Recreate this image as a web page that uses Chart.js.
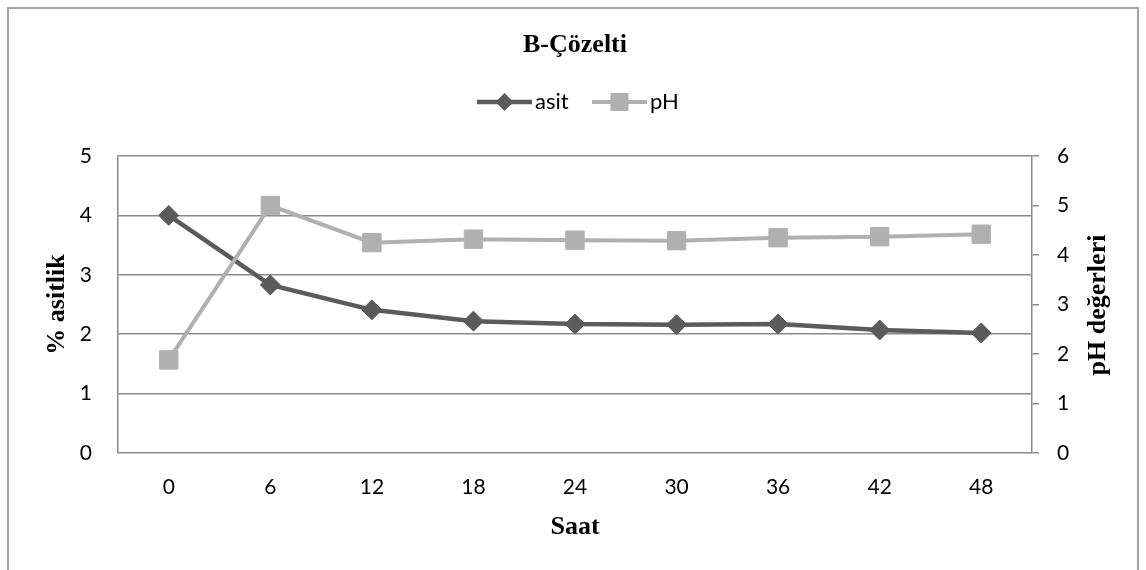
<!DOCTYPE html>
<html>
<head>
<meta charset="utf-8">
<title>B-Çözelti</title>
<script src="https://cdn.jsdelivr.net/npm/chart.js@4/dist/chart.umd.min.js"></script>
<style>
  html, body { margin: 0; padding: 0; background: #ffffff; }
  canvas { display: block; }
</style>
</head>
<body>
<canvas id="chart" width="1146" height="570"></canvas>
<script>
// Sampling hours
const hours = ['0', '6', '12', '18', '24', '30', '36', '42', '48'];
// Acidity (%) – left axis
const asit = [4.0, 2.83, 2.41, 2.22, 2.17, 2.16, 2.17, 2.07, 2.02];
// pH values – right axis
const pH = [1.88, 5.0, 4.25, 4.32, 4.30, 4.29, 4.35, 4.37, 4.42];

const TITLE = 'B-Çözelti';
const SERIES_NAMES = ['asit', 'pH'];
const AXIS_LEFT = '% asitlik';
const AXIS_RIGHT = 'pH değerleri';
const AXIS_X = 'Saat';

const DARK = '#5b5b5b';
const LIGHT = '#b0b0b0';
const GRID = '#8a8a8a';
const SERIF = '"Liberation Serif", "Times New Roman", serif';
const SANS = 'Lato, "Open Sans", sans-serif';

// Frame, title, legend and the right-hand axis title
const decorations = {
  id: 'decorations',
  beforeDraw(chart) {
    const ctx = chart.ctx;
    ctx.save();
    ctx.fillStyle = '#ffffff';
    ctx.fillRect(0, 0, chart.width, chart.height);
    ctx.restore();
  },
  afterDraw(chart) {
    const ctx = chart.ctx;
    ctx.save();
    // outer frame
    ctx.strokeStyle = '#a3a3a3';
    ctx.lineWidth = 2;
    ctx.strokeRect(8, 8, chart.width - 16, chart.height + 10);

    // title
    ctx.fillStyle = '#000000';
    ctx.font = 'bold 26px ' + SERIF;
    ctx.textAlign = 'center';
    ctx.textBaseline = 'middle';
    ctx.fillText(TITLE, 575, 45);

    // legend
    const items = [
      { x: 477, ds: chart.data.datasets[0] },
      { x: 592, ds: chart.data.datasets[1] }
    ];
    const ly = 102;
    items.forEach(it => {
      ctx.strokeStyle = it.ds.borderColor;
      ctx.lineWidth = it.ds.borderWidth;
      ctx.beginPath();
      ctx.moveTo(it.x, ly);
      ctx.lineTo(it.x + 55, ly);
      ctx.stroke();
      ctx.fillStyle = it.ds.pointBackgroundColor;
      const cx = it.x + 27.5;
      ctx.beginPath();
      if (it.ds.pointStyle === 'rectRot') {
        ctx.moveTo(cx - 9, ly); ctx.lineTo(cx, ly - 9);
        ctx.lineTo(cx + 9, ly); ctx.lineTo(cx, ly + 9);
        ctx.closePath();
      } else {
        ctx.rect(cx - 9, ly - 9, 18, 18);
      }
      ctx.fill();
      ctx.fillStyle = '#000000';
      ctx.font = '22px ' + SANS;
      ctx.textAlign = 'left';
      ctx.textBaseline = 'middle';
      ctx.fillText(it.ds.label, it.x + 58, ly);
    });

    // right axis title, reading bottom to top
    ctx.translate(1098, 305);
    ctx.rotate(-Math.PI / 2);
    ctx.font = 'bold 26px ' + SERIF;
    ctx.textAlign = 'center';
    ctx.textBaseline = 'middle';
    ctx.fillStyle = '#000000';
    ctx.fillText(AXIS_RIGHT, 0, 0);
    ctx.restore();
  }
};

function build() {
  new Chart(document.getElementById('chart'), {
    type: 'line',
    data: {
      labels: hours,
      datasets: [
        {
          label: SERIES_NAMES[0],
          data: asit,
          yAxisID: 'y',
          borderColor: DARK,
          backgroundColor: DARK,
          borderWidth: 4.5,
          pointStyle: 'rectRot',
          pointRadius: 10,
          pointBackgroundColor: DARK,
          pointBorderColor: DARK,
          pointBorderWidth: 1,
          tension: 0,
          order: 2
        },
        {
          label: SERIES_NAMES[1],
          data: pH,
          yAxisID: 'y1',
          borderColor: LIGHT,
          backgroundColor: LIGHT,
          borderWidth: 4,
          pointStyle: 'rect',
          pointRadius: 13,
          pointBackgroundColor: LIGHT,
          pointBorderColor: LIGHT,
          pointBorderWidth: 1,
          tension: 0,
          order: 1
        }
      ]
    },
    options: {
      responsive: false,
      animation: false,
      events: [],
      layout: { padding: { top: 156, left: 0, right: 0, bottom: 0 } },
      plugins: {
        legend: { display: false },
        title: { display: false },
        tooltip: { enabled: false }
      },
      scales: {
        x: {
          offset: true,
          grid: { display: false, drawTicks: false },
          border: { display: false },
          ticks: { color: '#000000', font: { family: SANS, size: 21 }, padding: 22, maxRotation: 0 },
          title: { display: true, text: AXIS_X, color: '#000000',
                   font: { family: SERIF, size: 26, weight: 'bold' }, padding: { top: 0, bottom: 27 } },
          afterFit(scale) { scale.height = 570 - 453; }
        },
        y: {
          position: 'left',
          min: 0, max: 5,
          ticks: { stepSize: 1, color: '#000000', font: { family: SANS, size: 21 }, padding: 26 },
          grid: { color: GRID, lineWidth: 1.5, drawTicks: false },
          border: { display: true, color: GRID, width: 1.5 },
          title: { display: true, text: AXIS_LEFT, color: '#000000',
                   font: { family: SERIF, size: 26, weight: 'bold' }, padding: { top: 42, bottom: 0 } },
          afterFit(scale) { scale.width = 118; }
        },
        y1: {
          position: 'right',
          min: 0, max: 6,
          ticks: { stepSize: 1, color: '#000000', font: { family: SANS, size: 21 }, padding: 18 },
          grid: { drawOnChartArea: false, drawTicks: true, tickLength: 7, color: GRID, lineWidth: 1.5 },
          border: { display: true, color: GRID, width: 1.5 },
          afterFit(scale) { scale.width = 1146 - 1032; }
        }
      }
    },
    plugins: [decorations]
  });
}

const fontsReady = document.fonts && document.fonts.load
  ? Promise.all([
      document.fonts.load('21px Lato'),
      document.fonts.load('bold 26px "Liberation Serif"')
    ]).catch(() => {})
  : Promise.resolve();
fontsReady.then(build);
</script>
</body>
</html>
